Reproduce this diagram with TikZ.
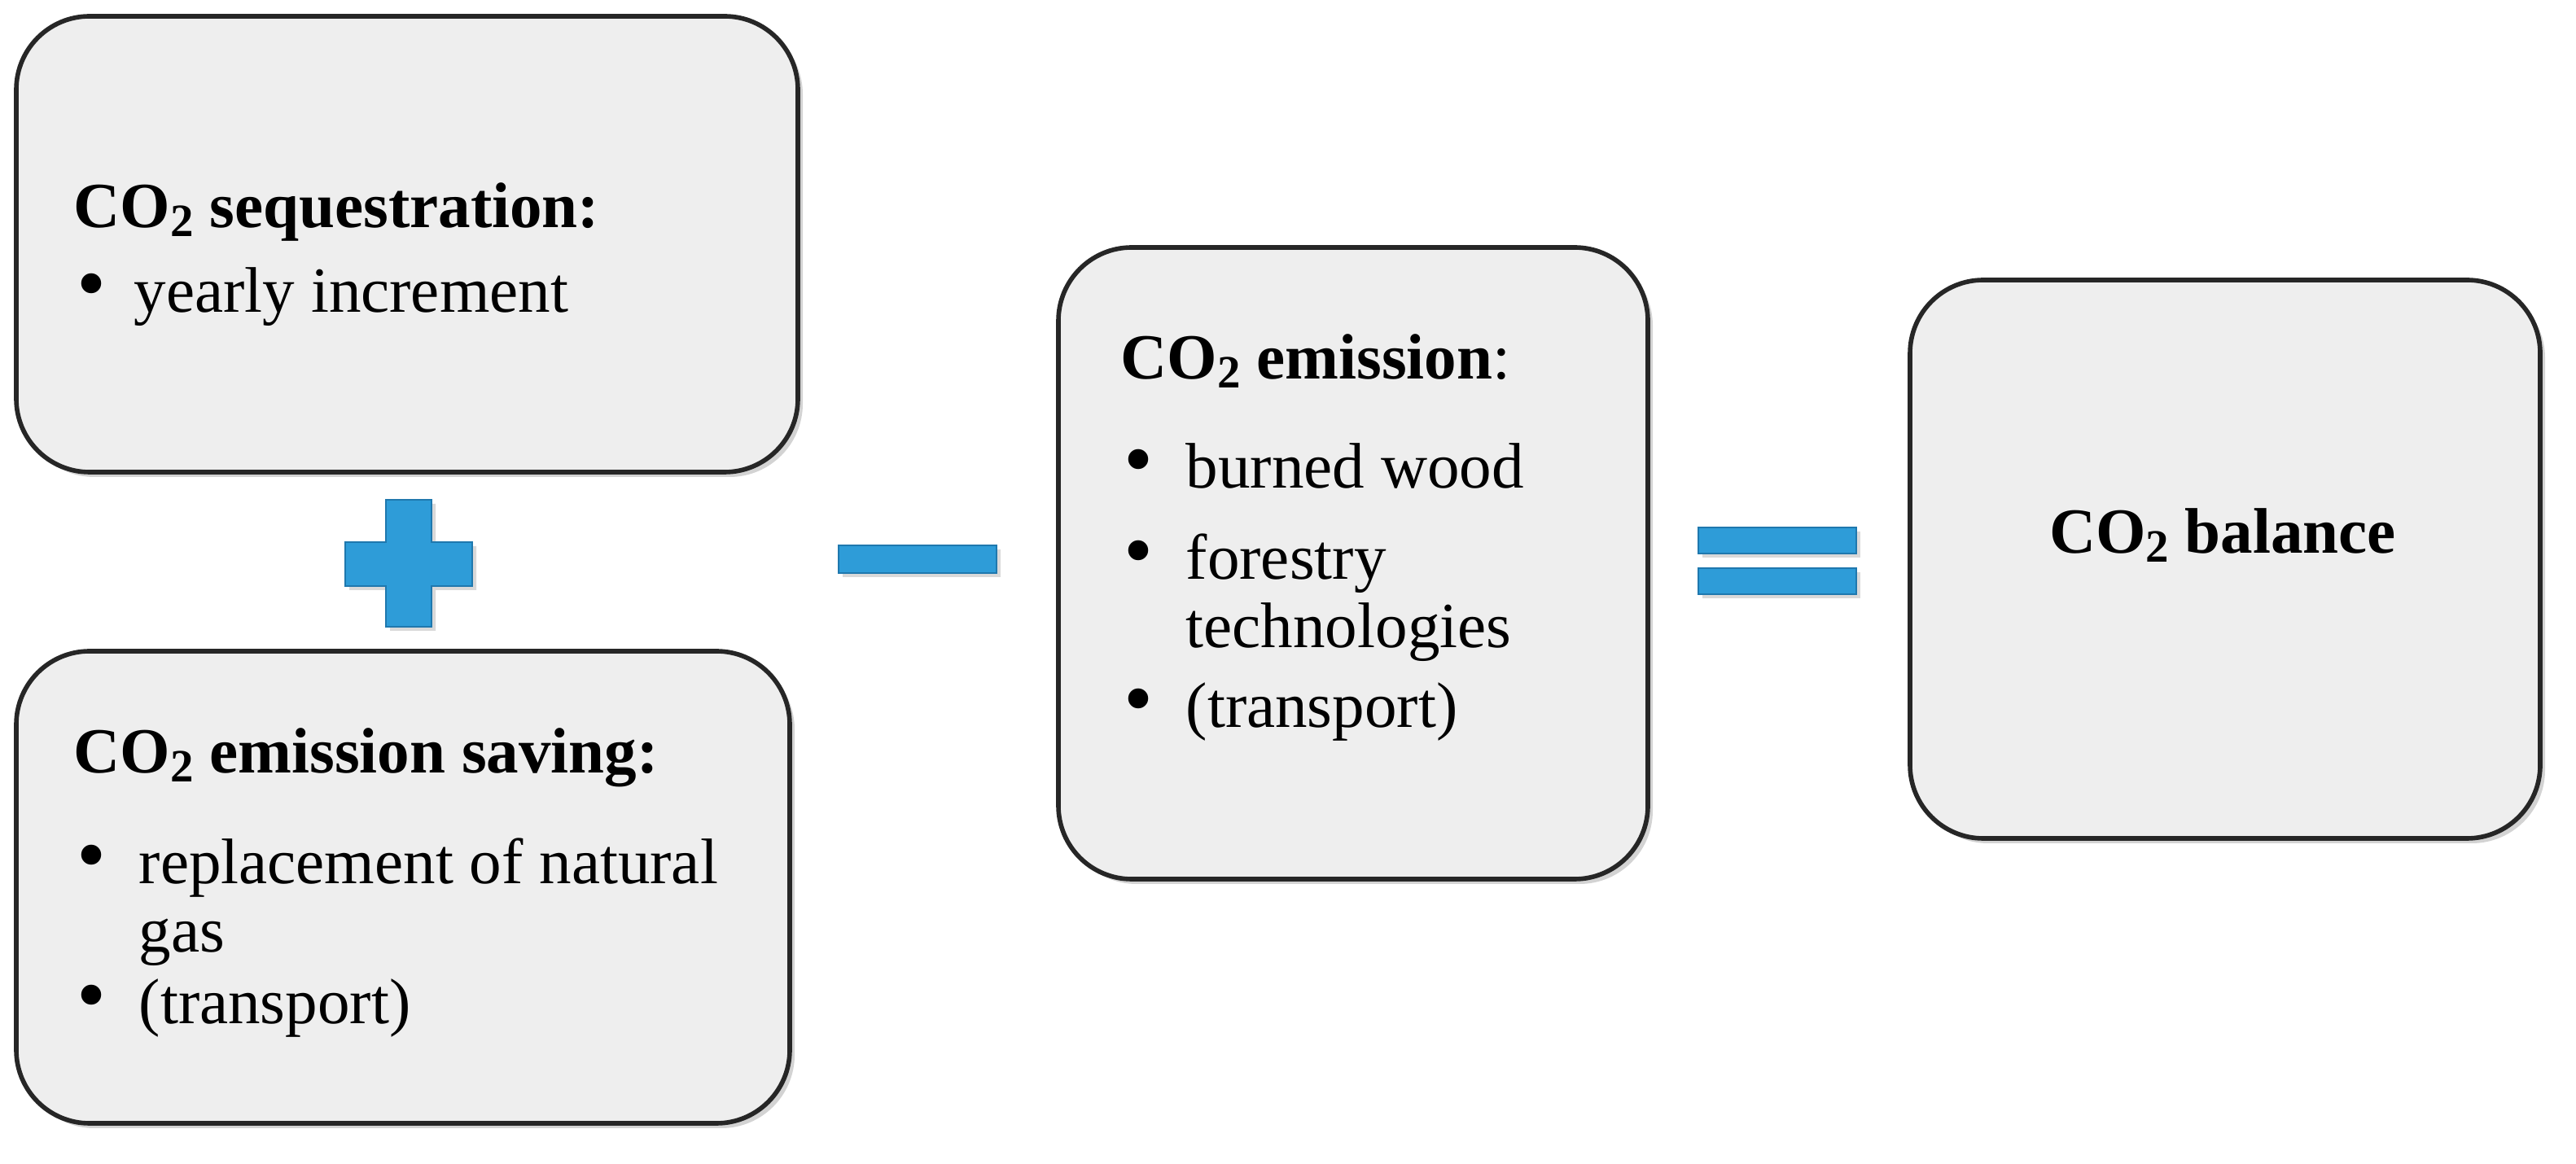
\documentclass[tikz,border=0pt]{standalone}
\usepackage{fontspec}
\setmainfont{Liberation Serif}
\usetikzlibrary{shadows}
\definecolor{opblue}{HTML}{2E9CD8}
\definecolor{opedge}{HTML}{1F78AE}
\newcommand{\cotwo}{CO\raisebox{-0.3ex}{\scalebox{0.72}{2}}}
\newcommand{\bigbul}{\raisebox{0.05ex}{\scalebox{1.3}{\textbullet}}}
\begin{document}
\begin{tikzpicture}[x=0.02cm,y=-0.02cm,
  card/.style={draw=black!85,line width=1.6pt,fill=gray!13,rounded corners=0.9cm,drop shadow={shadow xshift=0.6mm,shadow yshift=-0.6mm,opacity=0.35}},
  op/.style={fill=opblue,draw=opedge,line width=0.6pt,drop shadow={shadow xshift=0.5mm,shadow yshift=-0.5mm,opacity=0.3}},
  txt/.style={anchor=base west,inner sep=0pt,font=\fontsize{22.5}{27}\selectfont}]
\useasboundingbox (0,0) rectangle (1582,715);
\draw[card] (10,10) rectangle (490,290);
\draw[card] (10,400) rectangle (485,690);
\draw[card] (650,152) rectangle (1012,540);
\draw[card] (1173,172) rectangle (1560,515);
% operators
\filldraw[op] (237,307) -- (265,307) -- (265,333) -- (290,333) -- (290,360) -- (265,360) -- (265,385) -- (237,385) -- (237,360) -- (212,360) -- (212,333) -- (237,333) -- cycle;
\filldraw[op] (515,335) rectangle (612,352);
\filldraw[op] (1043,324) rectangle (1140,340);
\filldraw[op] (1043,349) rectangle (1140,365);
% box1
\node[txt] (t1) at (45,140) {\textbf{\cotwo\ sequestration:}};
\node[txt] (b11) at (47,192) {\bigbul};
\node[txt] (l11) at (82,192) {yearly increment};
% box2
\node[txt] (t2) at (45,475) {\textbf{\cotwo\ emission saving:}};
\node[txt] (b21) at (47,543) {\bigbul};
\node[txt] (l21) at (85,543) {replacement of natural};
\node[txt] (l22) at (85,585) {gas};
\node[txt] (b22) at (47,629) {\bigbul};
\node[txt] (l23) at (85,629) {(transport)};
% box3
\node[txt] (t3) at (688,233) {\textbf{\cotwo\ emission}:};
\node[txt] (b31) at (690,300) {\bigbul};
\node[txt] (l31) at (728,300) {burned wood};
\node[txt] (b32) at (690,356) {\bigbul};
\node[txt] (l32) at (728,356) {forestry};
\node[txt] (l33) at (728,398) {technologies};
\node[txt] (b33) at (690,447) {\bigbul};
\node[txt] (l34) at (728,447) {(transport)};
% box4
\node[txt,anchor=base] (t4) at (1365,340) {\textbf{\cotwo\ balance}};
\end{tikzpicture}
\end{document}
